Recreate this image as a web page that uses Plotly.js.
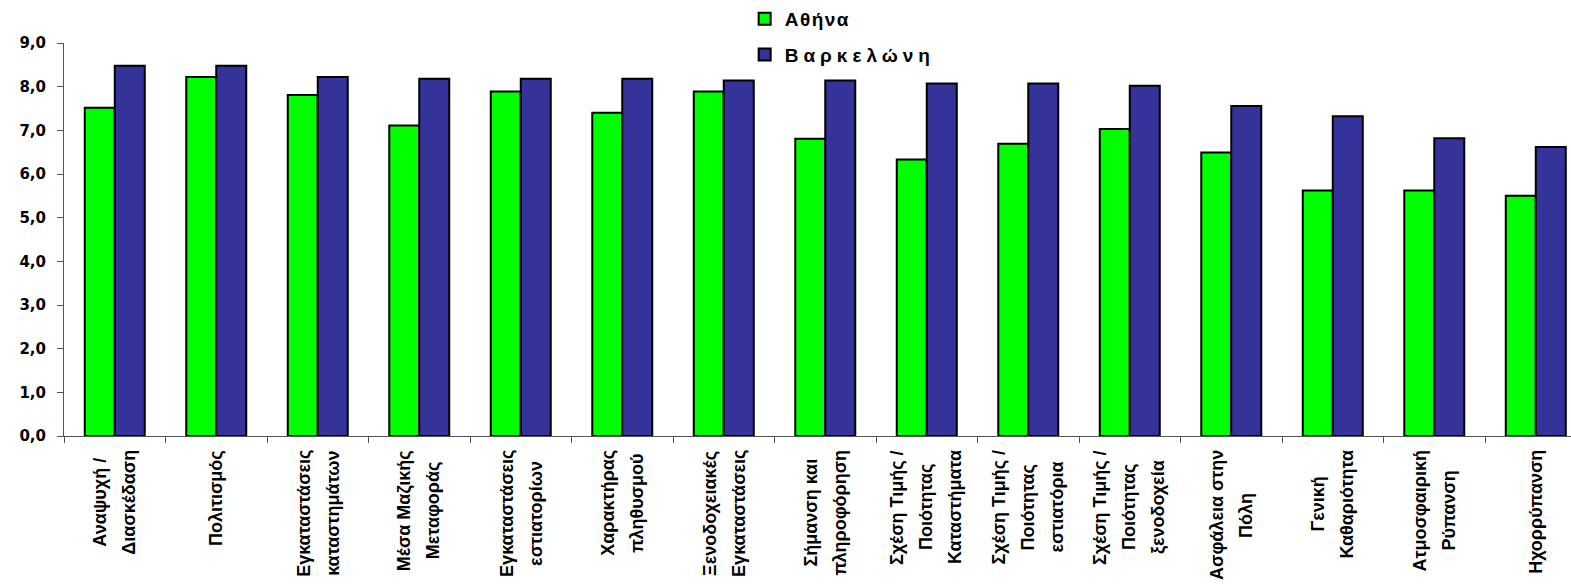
<!DOCTYPE html>
<html><head><meta charset="utf-8">
<script src="https://cdn.plot.ly/plotly-3.0.1.min.js"></script>
<style>
html,body{margin:0;padding:0;overflow:hidden;background:#fff;}
#chart{width:1571px;height:584px;}
.legend .scrollbox{clip-path:none !important;}
.legend .legendtext{letter-spacing:1.5px;}
.legend .groups:nth-of-type(2) .legendtext{letter-spacing:5px;}
</style></head><body><div id="chart"></div>
<script>
const categories = [
  'Αναψυχή /<br>Διασκέδαση',
  'Πολιτισμός',
  'Εγκαταστάσεις<br>καταστημάτων',
  'Μέσα Μαζικής<br>Μεταφοράς',
  'Εγκαταστάσεις<br>εστιατορίων',
  'Χαρακτήρας<br>πληθυσμού',
  'Ξενοδοχειακές<br>Εγκαταστάσεις',
  'Σήμανση και<br>πληροφόρηση',
  'Σχέση Τιμής /<br>Ποιότητας<br>Καταστήματα',
  'Σχέση Τιμής /<br>Ποιότητας<br>εστιατόρια',
  'Σχέση Τιμής /<br>Ποιότητας<br>ξενοδοχεία',
  'Ασφάλεια στην<br>Πόλη',
  'Γενική<br>Καθαριότητα',
  'Ατμοσφαιρική<br>Ρύπανση',
  'Ηχορρύπανση'
];
const athens    = [7.52, 8.22, 7.81, 7.11, 7.89, 7.40, 7.89, 6.81, 6.33, 6.69, 7.03, 6.49, 5.62, 5.62, 5.50];
const barcelona = [8.48, 8.48, 8.22, 8.18, 8.18, 8.18, 8.14, 8.14, 8.07, 8.07, 8.02, 7.56, 7.32, 6.82, 6.62];
const seriesNames = ['Αθήνα', 'Βαρκελώνη'];
const yTickValues = [0, 1, 2, 3, 4, 5, 6, 7, 8, 9];
const yTickLabels = ['0,0', '1,0', '2,0', '3,0', '4,0', '5,0', '6,0', '7,0', '8,0', '9,0'];

const traces = [
  {type: 'bar', name: seriesNames[0], x: categories, y: athens, legendgroup: 'a',
   marker: {color: '#00FF00', line: {color: '#000000', width: 2}}, hoverinfo: 'none'},
  {type: 'bar', name: seriesNames[1], x: categories, y: barcelona, legendgroup: 'b',
   marker: {color: '#333399', line: {color: '#000000', width: 2}}, hoverinfo: 'none'}
];

// category labels: one rotated annotation per line, lines centred on each other
const LABEL_SIZE = 18, LINE_GAP = 29, LABEL_TOP = 14;
const labelFont = {family: 'Liberation Sans, Arial, sans-serif', size: LABEL_SIZE, weight: 'bold', color: '#000000'};
const ctx = document.createElement('canvas').getContext('2d');
ctx.font = 'bold ' + LABEL_SIZE + 'px "Liberation Sans", Arial, sans-serif';
const annotations = [];
categories.forEach(c => {
  const lines = c.split('<br>');
  const maxLen = Math.max(...lines.map(l => ctx.measureText(l).width));
  lines.forEach((l, j) => {
    annotations.push({
      x: c, y: 0, xref: 'x', yref: 'y', xanchor: 'center', yanchor: 'middle',
      xshift: (j - (lines.length - 1) / 2) * LINE_GAP,
      yshift: -(LABEL_TOP + maxLen / 2),
      text: l, textangle: -90, showarrow: false, font: labelFont
    });
  });
});

const layout = {
  width: 1571, height: 584, autosize: false,
  margin: {l: 64, r: 0, t: 43, b: 148, pad: 0, autoexpand: false},
  paper_bgcolor: '#ffffff', plot_bgcolor: '#ffffff',
  font: {family: 'Liberation Sans, Arial, sans-serif', color: '#000000'},
  barmode: 'group', bargap: 0.409, bargroupgap: 0,
  showlegend: true,
  legend: {x: 0.474, xref: 'container', xanchor: 'left', y: 1.0068, yref: 'container', yanchor: 'top',
    traceorder: 'grouped', tracegroupgap: 8, bgcolor: 'rgba(0,0,0,0)',
    font: {family: 'Liberation Sans, Arial, sans-serif', size: 19, weight: 'bold', color: '#000000'}},
  xaxis: {type: 'category', range: [-0.5, 14.347], tickson: 'boundaries', ticks: 'outside',
    ticklen: 6, tickcolor: '#555555', tickwidth: 1, showline: true, linecolor: '#555555', linewidth: 1,
    showticklabels: false, showgrid: false, zeroline: false, fixedrange: true},
  yaxis: {range: [0, 9], tickvals: yTickValues, ticktext: yTickLabels, ticks: 'outside', ticklen: 6,
    tickcolor: '#555555', showline: true, linecolor: '#555555', linewidth: 1, showgrid: false,
    zeroline: false, fixedrange: true, ticklabelstandoff: 8,
    tickfont: {family: 'DejaVu Sans, sans-serif', size: 15, weight: 'bold', color: '#000000'}},
  annotations: annotations
};

Plotly.newPlot('chart', traces, layout, {displayModeBar: false, staticPlot: true});
</script></body></html>
